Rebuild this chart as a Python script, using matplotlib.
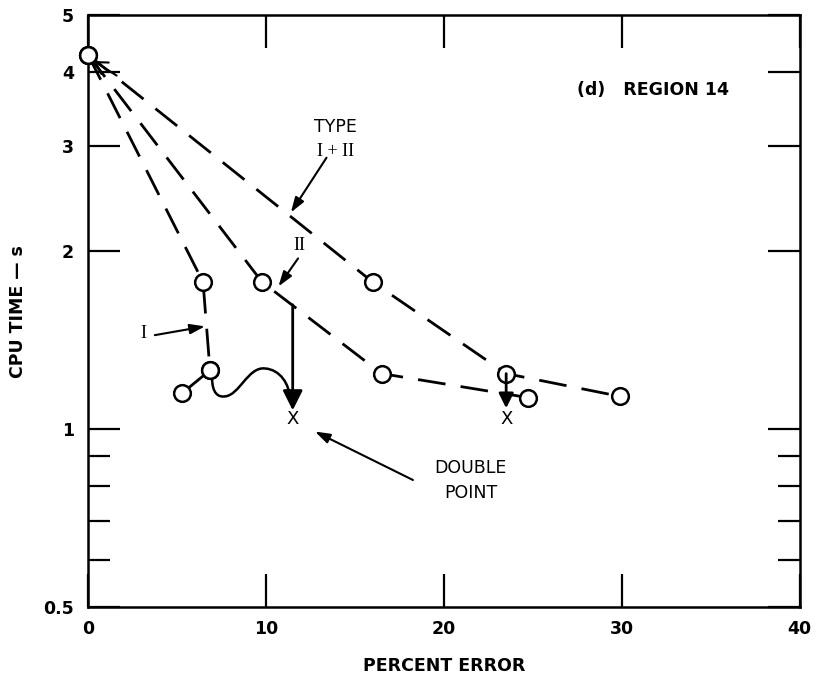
"""
CPU time vs percent error, region 14 (panel d).
"""

import matplotlib.pyplot as plt
from matplotlib.path import Path
import matplotlib.patches as patches

# ============================================
# Datos
# ============================================
type_i_x = [0.0, 6.46, 6.85]
type_i_y = [4.28, 1.77, 1.256]
type_i_tail_x = [6.85, 5.28]          # tramo sólido hasta el punto doble
type_i_tail_y = [1.256, 1.149]

type_ii_x = [0.0, 9.78, 16.5, 24.7]
type_ii_y = [4.28, 1.77, 1.24, 1.13]

type_i_ii_x = [0.0, 16.0, 23.5, 29.9]
type_i_ii_y = [4.28, 1.77, 1.24, 1.135]

double_x = [11.5, 23.5]
double_y = [1.04, 1.04]

y_ticks = [0.5, 1, 2, 3, 4, 5]
y_tick_labels = ["0.5", "1", "2", "3", "4", "5"]
y_minor = [0.6, 0.7, 0.8, 0.9]
x_ticks = [0, 10, 20, 30, 40]

# ============================================
# Figura
# ============================================
plt.rcParams['font.family'] = ['DejaVu Sans']
fig = plt.figure(figsize=(8.16, 6.77), dpi=100)
ax = fig.add_axes([0.108, 0.103, 0.872, 0.875])

LW = 2.0
dash = (0, (10, 5.5))
circ = dict(marker='o', markersize=12, markerfacecolor='white',
            markeredgecolor='black', markeredgewidth=1.8)

ax.plot(type_i_x, type_i_y, color='black', lw=LW, linestyle=dash, zorder=2)
ax.plot(type_ii_x, type_ii_y, color='black', lw=LW, linestyle=dash, zorder=2)
ax.plot(type_i_ii_x, type_i_ii_y, color='black', lw=LW, linestyle=dash, zorder=2)
ax.plot(type_i_tail_x, type_i_tail_y, color='black', lw=LW, zorder=2)

for xs, ys in [(type_i_x, type_i_y), (type_ii_x, type_ii_y),
               (type_i_ii_x, type_i_ii_y), (type_i_tail_x, type_i_tail_y)]:
    ax.plot(xs, ys, linestyle='none', zorder=3, clip_on=False, **circ)

# puntos dobles (X)
for x, y in zip(double_x, double_y):
    ax.text(x, y, "X", ha='center', va='center', fontsize=13)

# flechas gruesas hacia los puntos dobles
big = dict(arrowstyle='-|>', color='black', lw=LW, mutation_scale=30,
           shrinkA=0, shrinkB=0)
ax.annotate("", xy=(11.5, 1.075), xytext=(11.5, 1.62), arrowprops=big)
ax.annotate("", xy=(23.5, 1.084), xytext=(23.5, 1.24),
            arrowprops=dict(big, mutation_scale=22))

# curva en S desde el punto de tipo I
verts = [(6.97, 1.218), (6.97, 1.15), (7.3, 1.13), (7.7, 1.135),
         (8.5, 1.14), (9.0, 1.275), (9.94, 1.265),
         (10.8, 1.26), (11.3, 1.19), (11.35, 1.128)]
codes = [Path.MOVETO] + [Path.CURVE4] * 9
ax.add_patch(patches.PathPatch(Path(verts, codes), facecolor='none',
                               edgecolor='black', lw=1.8, zorder=2))

# flechas finas de las etiquetas
thin = dict(arrowstyle='-|>,head_length=0.6,head_width=0.2', color='black',
            lw=1.5, mutation_scale=15, shrinkA=0, shrinkB=0)
ax.annotate("", xy=(11.4, 2.32), xytext=(13.4, 2.87), arrowprops=thin)
ax.annotate("", xy=(10.7, 1.74), xytext=(11.8, 1.94), arrowprops=thin)
ax.annotate("", xy=(6.57, 1.49), xytext=(3.75, 1.44), arrowprops=thin)
ax.annotate("", xy=(12.75, 0.99), xytext=(18.26, 0.82), arrowprops=thin)
# punta abierta en el origen de las curvas
ax.annotate("", xy=(0.3, 4.18), xytext=(1.6, 3.95),
            arrowprops=dict(arrowstyle='->,head_length=0.6,head_width=0.35',
                            color='black', lw=1.5, mutation_scale=14,
                            shrinkA=0, shrinkB=0))

# textos
ax.text(27.5, 3.73, "(d)   REGION 14", fontsize=12.5, fontweight='bold',
        ha='left', va='center')
ax.text(13.9, 3.24, "TYPE", fontsize=12.5, ha='center', va='center')
ax.text(13.9, 2.94, "I + II", fontsize=13, ha='center', va='center',
        family='Liberation Serif')
ax.text(11.9, 2.04, "II", fontsize=13, ha='center', va='center',
        family='Liberation Serif')
ax.text(3.1, 1.45, "I", fontsize=13, ha='center', va='center',
        family='Liberation Serif')
ax.text(21.5, 0.86, "DOUBLE", fontsize=12.5, ha='center', va='center')
ax.text(21.5, 0.78, "POINT", fontsize=12.5, ha='center', va='center')

# ejes
ax.set_yscale('log')
ax.set_xlim(0, 40)
ax.set_ylim(0.5, 5)
ax.set_yticks(y_ticks)
ax.set_yticklabels(y_tick_labels)
ax.set_yticks(y_minor, minor=True)
ax.set_yticklabels([], minor=True)
ax.set_xticks(x_ticks)
ax.set_xticklabels([str(v) for v in x_ticks])

ax.tick_params(axis='both', which='major', direction='in', width=1.6,
               top=True, right=True, labelsize=12.5, pad=10)
ax.tick_params(axis='y', which='major', length=23)
ax.tick_params(axis='x', which='major', length=24, pad=9)
ax.tick_params(axis='y', which='minor', direction='in', length=16,
               width=1.6, right=True)
for lab in ax.get_xticklabels() + ax.get_yticklabels():
    lab.set_fontweight('bold')
for sp in ax.spines.values():
    sp.set_linewidth(1.8)

ax.set_xlabel("PERCENT ERROR", fontsize=12.5, fontweight='bold', labelpad=14)
ax.set_ylabel("CPU TIME — s", fontsize=12.5, fontweight='bold', labelpad=12)

fig.savefig("out.png", dpi=100)
